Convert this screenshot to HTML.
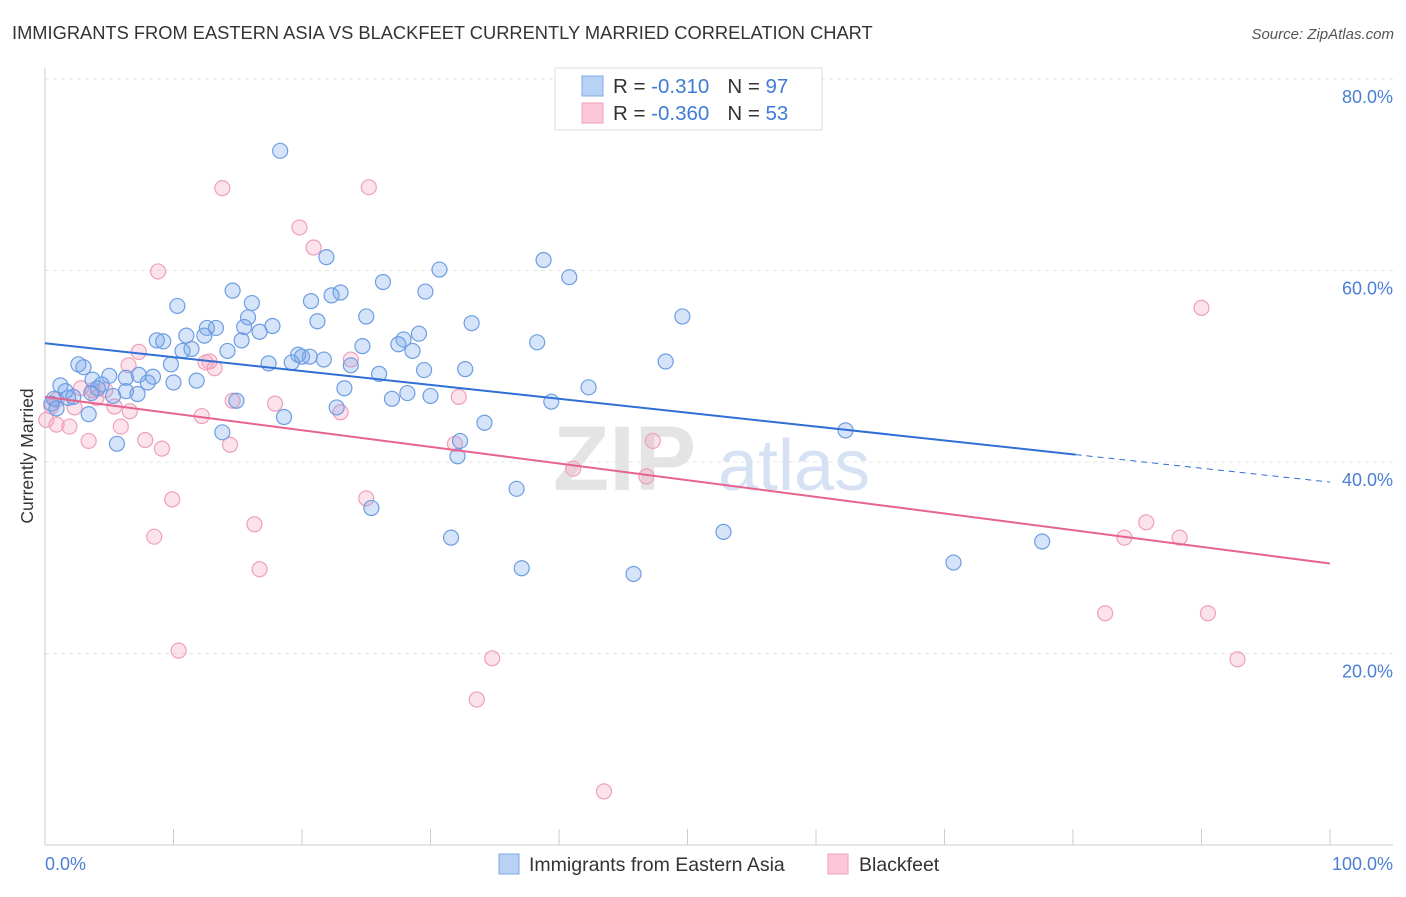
<!DOCTYPE html>
<html><head><meta charset="utf-8"><style>
body{margin:0;background:#fff;font-family:"Liberation Sans",sans-serif}
svg text{font-family:"Liberation Sans",sans-serif}
</style></head><body>
<svg id="chart" width="1406" height="892" xmlns="http://www.w3.org/2000/svg">
<text x="12" y="39" font-size="18.3" fill="#333">IMMIGRANTS FROM EASTERN ASIA VS BLACKFEET CURRENTLY MARRIED CORRELATION CHART</text>
<text x="1394" y="39" font-size="15" fill="#555" font-style="italic" text-anchor="end">Source: ZipAtlas.com</text>
<g id="grid"></g>
<text x="553" y="490" font-size="92" font-family="Liberation Serif" fill="#e4e4e4" font-weight="bold">ZIP</text>
<text x="718" y="490" font-size="72" fill="#d6e2f3">atlas</text>
<g id="points"></g>
<g id="lines"></g>
<text transform="translate(33,456) rotate(-90)" font-size="17.5" fill="#333" text-anchor="middle">Currently Married</text>
<text x="45" y="870" font-size="18" fill="#4a7fd4">0.0%</text>
<text x="1393" y="870" font-size="18" fill="#4a7fd4" text-anchor="end">100.0%</text>
<g>
<rect x="555" y="68" width="267" height="62" fill="#fff" stroke="#ddd"/>
<rect x="582" y="76" width="21" height="20" fill="#b8d2f5" stroke="#7fa8e6"/>
<rect x="582" y="103" width="21" height="20" fill="#fcc8d8" stroke="#eea0bb"/>
<text x="613" y="93" font-size="20.5" fill="#333">R = <tspan fill="#3f7bd6"> -0.310</tspan><tspan dx="18">N = </tspan><tspan fill="#3f7bd6">97</tspan></text>
<text x="613" y="120" font-size="20.5" fill="#333">R = <tspan fill="#3f7bd6">-0.360</tspan><tspan dx="18">N = </tspan><tspan fill="#3f7bd6">53</tspan></text>
</g>
<g>
<rect x="499" y="854" width="20" height="20" fill="#b8d2f5" stroke="#7fa8e6"/>
<text x="529" y="871" font-size="19.5" fill="#333">Immigrants from Eastern Asia</text>
<rect x="828" y="854" width="20" height="20" fill="#fcc8d8" stroke="#eea0bb"/>
<text x="859" y="871" font-size="19.5" fill="#333">Blackfeet</text>
</g>
</svg>
<script>
const yTicks=[20,40,60,80];
const yTickLabels=["20.0%","40.0%","60.0%","80.0%"];
const xTicks=[0,10,20,30,40,50,60,70,80,90,100];
const blueX=[18.3,21.9,38.8,30.7,40.8,26.3,14.6,29.6,23.0,22.3,10.3,16.1,20.7,49.6,15.8,25.0,21.2,33.2,15.5,17.7,12.6,13.3,11.0,16.7,12.4,8.7,9.2,29.1,27.9,27.5,24.7,38.3,15.3,11.4,14.2,10.7,28.6,19.7,20.6,20.0,21.7,19.2,17.4,48.3,2.6,3.0,9.8,26.0,32.7,29.5,23.8,7.3,5.0,8.4,6.3,3.7,4.4,8.0,11.8,10.0,1.2,4.1,23.3,42.3,1.6,3.6,6.3,7.2,28.2,30.0,27.0,5.3,1.8,0.7,0.5,14.9,39.4,2.2,22.7,0.9,3.4,18.6,34.2,62.3,13.8,32.3,5.6,32.1,36.7,25.4,52.8,31.6,77.6,70.7,37.1,45.8];
const blueY=[72.5,61.4,61.1,60.1,59.3,58.8,57.9,57.8,57.7,57.4,56.3,56.6,56.8,55.2,55.1,55.2,54.7,54.5,54.1,54.2,54.0,54.0,53.2,53.6,53.2,52.7,52.6,53.4,52.8,52.3,52.1,52.5,52.7,51.8,51.6,51.6,51.6,51.2,51.0,51.0,50.7,50.4,50.3,50.5,50.2,49.9,50.2,49.2,49.7,49.6,50.1,49.1,49.0,48.9,48.8,48.6,48.1,48.3,48.5,48.3,48.0,47.7,47.7,47.8,47.4,47.2,47.4,47.1,47.2,46.9,46.6,46.9,46.7,46.6,46.1,46.4,46.3,46.8,45.7,45.6,45.0,44.7,44.1,43.3,43.1,42.2,41.9,40.6,37.2,35.2,32.7,32.1,31.7,29.5,28.9,28.3];
const pinkX=[40.5,13.8,25.2,19.8,20.9,8.8,90.0,7.3,23.8,12.8,6.5,12.5,13.2,2.8,3.7,4.7,4.0,0.9,14.6,32.2,0.5,2.3,5.4,17.9,6.6,23.0,12.2,0.1,0.9,1.9,5.9,31.9,47.3,3.4,7.8,14.4,9.1,41.1,46.8,9.9,25.0,16.3,8.5,85.7,84.0,88.3,16.7,10.4,34.8,82.5,90.5,92.8,33.6,43.5];
const pinkY=[75.6,68.6,68.7,64.5,62.4,59.9,56.1,51.5,50.7,50.5,50.1,50.4,49.8,47.7,47.5,47.5,46.7,46.5,46.4,46.8,45.8,45.7,45.8,46.1,45.3,45.2,44.8,44.4,43.9,43.7,43.7,41.9,42.2,42.2,42.3,41.8,41.4,39.3,38.5,36.1,36.2,33.5,32.2,33.7,32.1,32.1,28.8,20.3,19.5,24.2,24.2,19.4,15.2,5.6];
const blueTrend=[52.4,-0.145];
const pinkTrend=[46.8,-0.174];
const blueSolidEnd=80.2;
const NS="http://www.w3.org/2000/svg";
const X0=45,X1=1330,Y0=845,YTOP=79;
const sx=v=>X0+(X1-X0)*v/100;
const sy=v=>Y0-(Y0-YTOP)*v/80;
function mk(tag,attrs,parent){const e=document.createElementNS(NS,tag);for(const k in attrs)e.setAttribute(k,attrs[k]);parent.appendChild(e);return e;}
const grid=document.getElementById('grid');
yTicks.forEach((t,i)=>{
 const l=mk('line',{x1:X0,x2:1393,y1:sy(t),y2:sy(t),stroke:'#e4e4e4','stroke-dasharray':'4,4'},grid);
 
 
 const tx=mk('text',{x:1393,y:sy(t)+24,'font-size':18,fill:'#4a7fd4','text-anchor':'end'},grid);
 tx.textContent=yTickLabels[i];
 
 
});
const ax=mk('line',{x1:X0,x2:X0,y1:68,y2:Y0,stroke:'#ccc'},grid);


const bx=mk('line',{x1:X0,x2:1393,y1:Y0,y2:Y0,stroke:'#ccc'},grid);


xTicks.forEach(t=>{
 const l=mk('line',{x1:sx(t),x2:sx(t),y1:Y0,y2:Y0-16,stroke:'#ccc'},grid);
 
 
});
const pts=document.getElementById('points');
pinkX.forEach((x,i)=>{
 const c=mk('circle',{cx:sx(x),cy:sy(pinkY[i]),r:7.5,fill:'rgba(245,160,190,0.3)',stroke:'#eea0bb','stroke-width':1.2},pts);
 
 
});
blueX.forEach((x,i)=>{
 const c=mk('circle',{cx:sx(x),cy:sy(blueY[i]),r:7.5,fill:'rgba(120,165,235,0.3)',stroke:'#6d9de2','stroke-width':1.2},pts);
 
 
});
const lines=document.getElementById('lines');
const f=(tr,x)=>tr[0]+tr[1]*x;
const b1=mk('line',{x1:sx(0),y1:sy(f(blueTrend,0)),x2:sx(blueSolidEnd),y2:sy(f(blueTrend,blueSolidEnd)),stroke:'#2f6fd6','stroke-width':2},lines);


const b2=mk('line',{x1:sx(blueSolidEnd),y1:sy(f(blueTrend,blueSolidEnd)),x2:sx(100),y2:sy(f(blueTrend,100)),stroke:'#2f6fd6','stroke-width':1,'stroke-dasharray':'6,5'},lines);


const p1=mk('line',{x1:sx(0),y1:sy(f(pinkTrend,0)),x2:sx(100),y2:sy(f(pinkTrend,100)),stroke:'#e7638f','stroke-width':2},lines);


</script>
</body></html>
